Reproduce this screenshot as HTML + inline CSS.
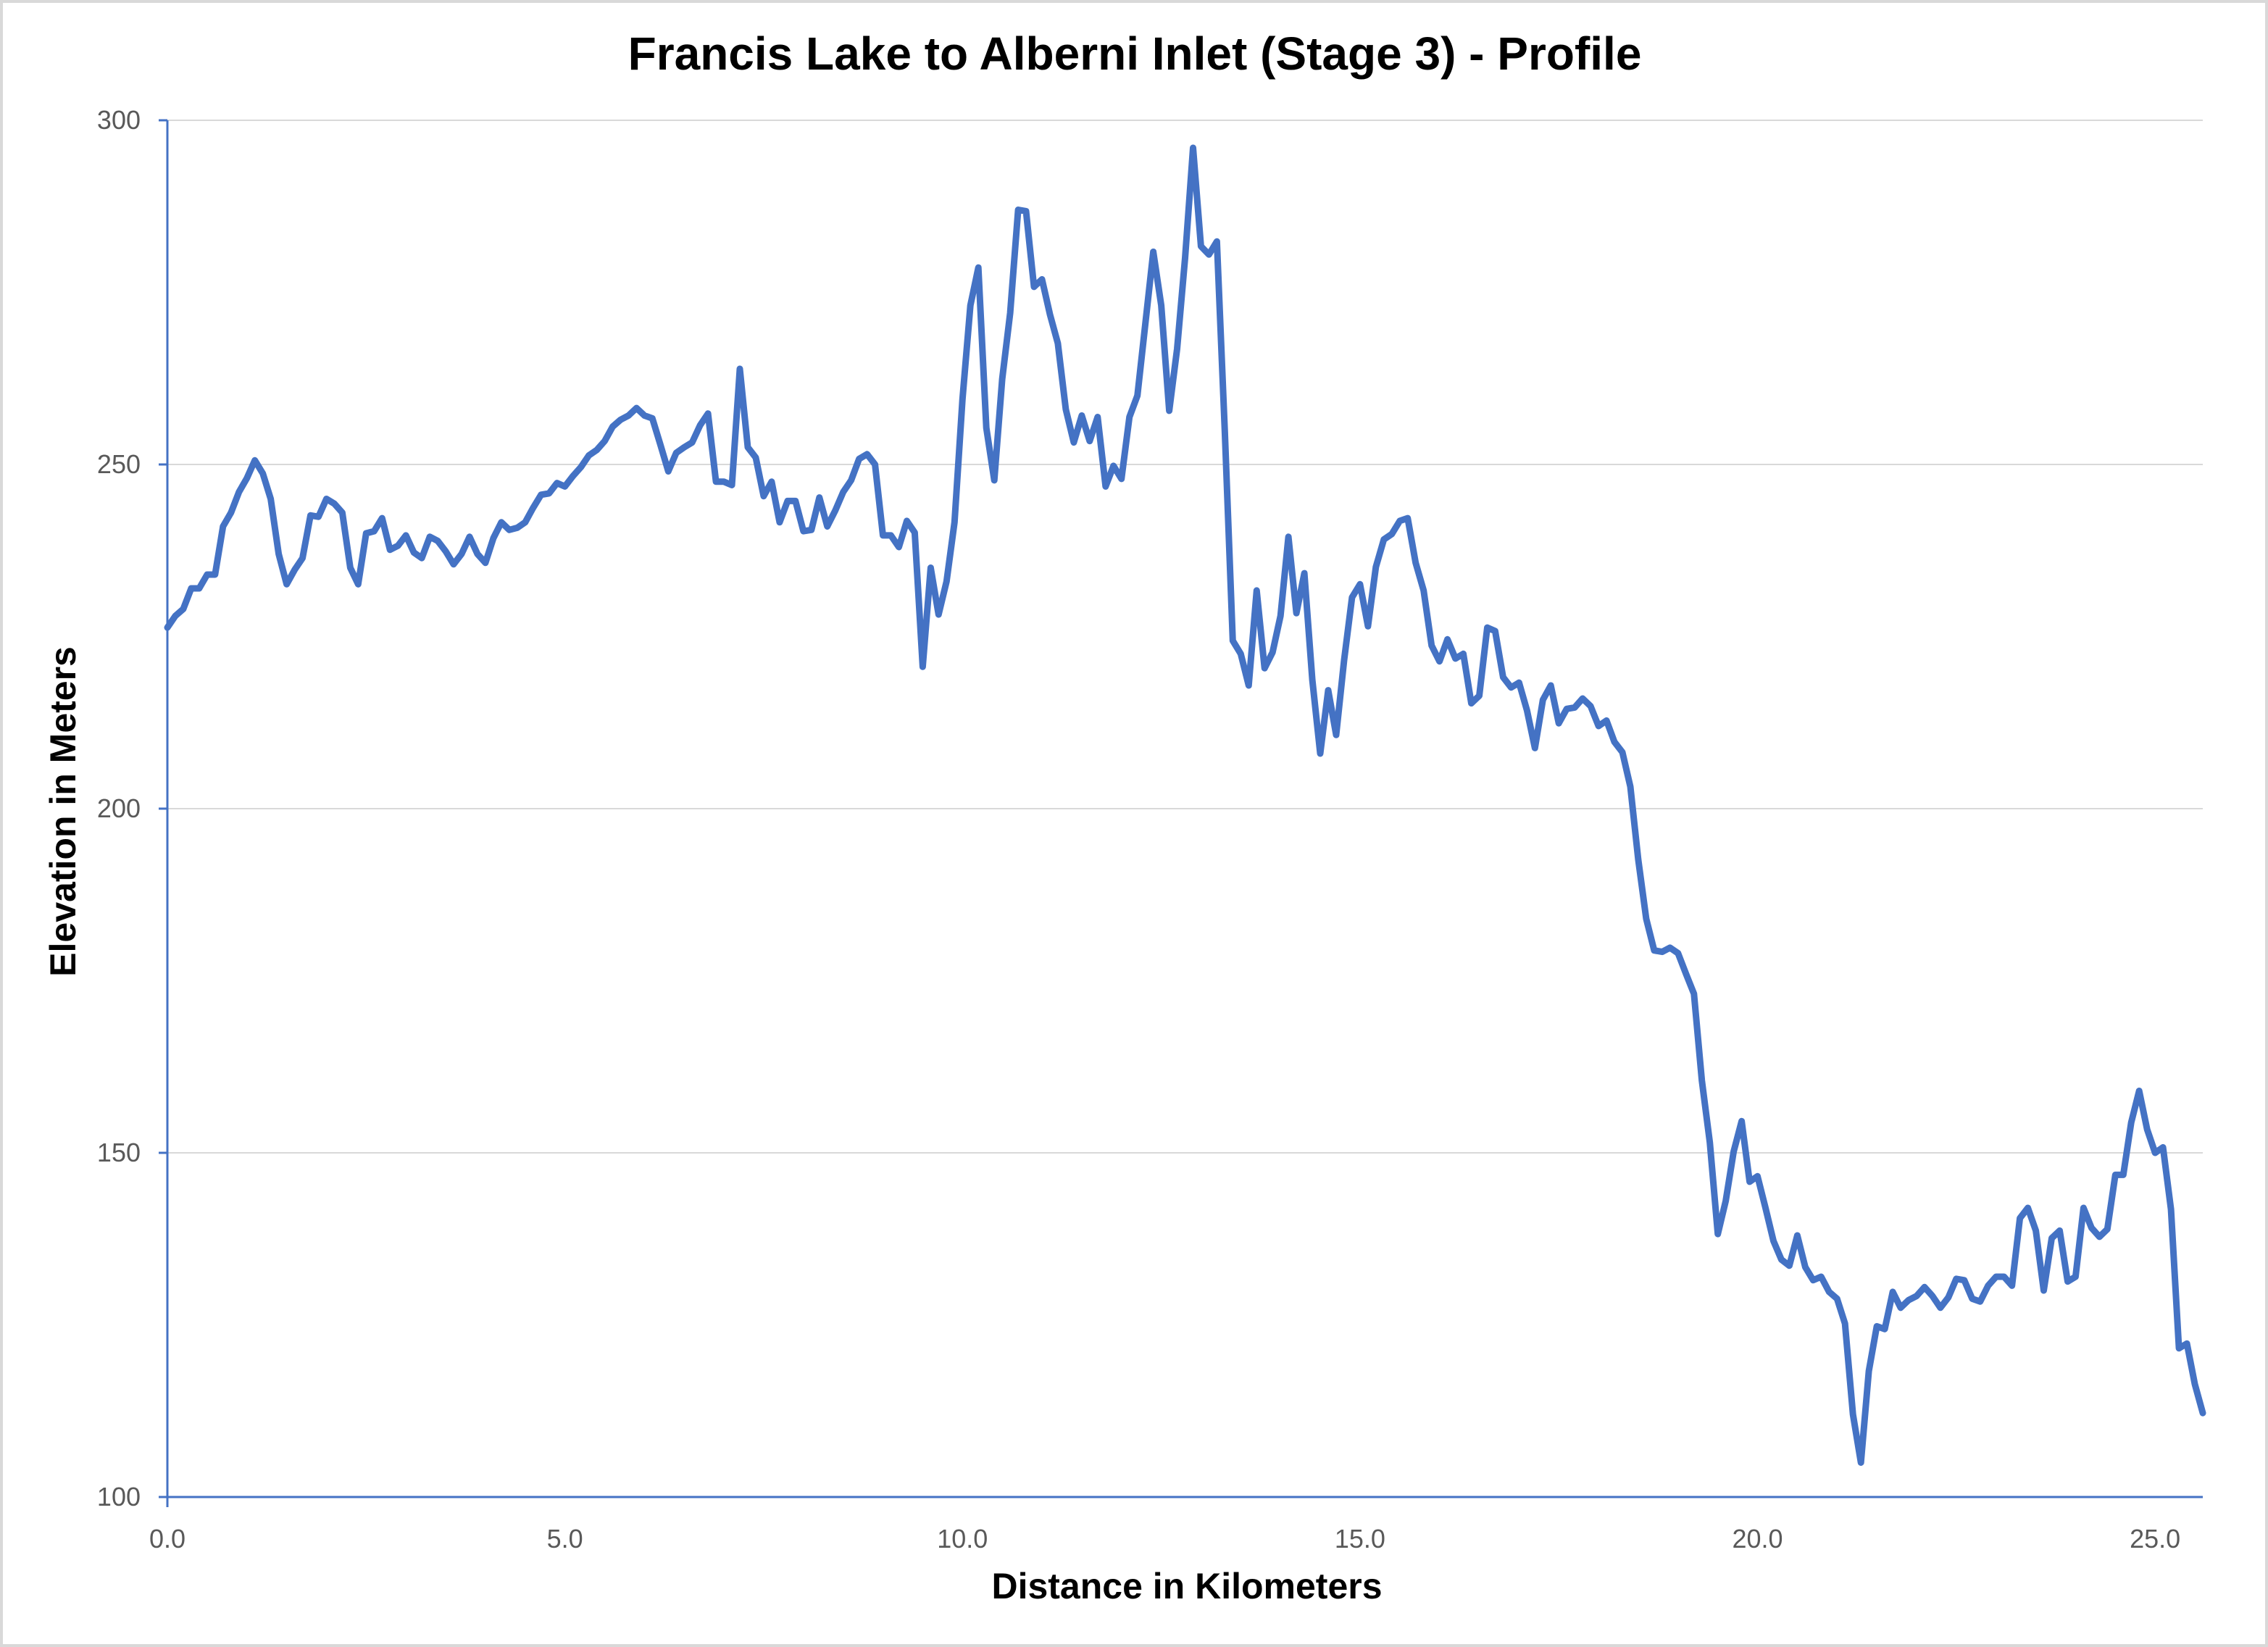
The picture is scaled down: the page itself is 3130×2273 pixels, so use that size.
<!DOCTYPE html>
<html><head><meta charset="utf-8"><style>
html,body{margin:0;padding:0;background:#fff;}
svg{display:block;}
text{font-family:"Liberation Sans",Arial,sans-serif;}
</style></head><body>
<svg id="chart" width="3130" height="2273" viewBox="0 0 3130 2273" xmlns="http://www.w3.org/2000/svg">
<rect x="2" y="2" width="3126" height="2269" fill="#fff" stroke="#d9d9d9" stroke-width="4"/>
<text x="1566" y="96" text-anchor="middle" font-size="64" font-weight="bold" fill="#000">Francis Lake to Alberni Inlet (Stage 3) - Profile</text>
<g id="grid"></g><g id="axes"></g><g id="ticks"></g><g id="series"></g>
<text x="1638" y="2206" text-anchor="middle" font-size="50" font-weight="bold" fill="#000">Distance in Kilometers</text>
<text transform="translate(104,1120) rotate(-90)" text-anchor="middle" font-size="50" font-weight="bold" fill="#000">Elevation in Meters</text>
</svg>
<script>
const yTicks = [100,150,200,250,300];
const xTicks = [0,5,10,15,20,25];
const xTickLabels = ["0.0","5.0","10.0","15.0","20.0","25.0"];
const totalKm = 25.6;
const elev = [226.3,228,229,232,232,234,234,241,243,246,248,250.6,248.7,245,237,232.6,234.7,236.4,242.6,242.4,245,244.3,243,235,232.6,240,240.3,242.2,237.6,238.2,239.7,237.2,236.4,239.5,238.9,237.4,235.5,237,239.5,237,235.7,239.3,241.6,240.5,240.8,241.6,243.7,245.6,245.8,247.3,246.8,248.3,249.6,251.3,252.1,253.4,255.5,256.5,257.1,258.2,257.1,256.7,252.9,249,251.7,252.5,253.2,255.7,257.4,247.5,247.5,247,263.9,252.5,251,245.4,247.5,241.6,244.7,244.7,240.3,240.5,245.2,241,243.3,246,247.7,250.8,251.5,250,239.7,239.7,238,241.8,240.1,220.6,235,228.2,233,241.6,259.5,273.1,278.6,255.3,247.7,262.4,272,287,286.8,275.8,276.9,271.8,267.6,258,253.2,257.1,253.4,256.9,246.8,249.8,247.9,256.9,260,270.4,280.9,273.1,257.8,266.8,280,296,281.7,280.5,282.4,254.6,224.4,222.5,217.9,231.7,220.4,222.7,228,239.5,228.4,234.2,218.7,208,217.2,210.7,221.6,230.7,232.6,226.5,235.1,239.1,239.9,241.8,242.2,235.7,231.7,223.7,221.4,224.6,221.8,222.5,215.3,216.4,226.3,225.8,219.1,217.6,218.3,214.3,208.8,215.8,217.9,212.4,214.5,214.7,216,214.9,212,212.8,209.7,208.2,203.2,192.6,184,179.4,179.2,179.8,179,176,173.1,160.5,151.5,138.2,143,150.2,154.6,145.8,146.6,142,137.2,134.5,133.6,138,133.4,131.5,132,129.8,128.8,125.2,112,105,118.3,124.8,124.4,129.8,127.5,128.6,129.2,130.5,129.2,127.5,129,131.7,131.5,128.8,128.4,130.7,132,132,130.7,140.5,142,138.7,130,137.6,138.7,131.3,132,142,139.1,137.8,138.9,146.8,146.8,154.4,159,153.4,150,150.8,141.8,121.6,122.3,116.4,112.2];
const dist = elev.map((_, i) => i * totalKm / (elev.length - 1));

const NS = "http://www.w3.org/2000/svg";
const X0 = 231, X1 = 3040, Y0 = 2066, Y1 = 166;
const xs = km => X0 + km / totalKm * (X1 - X0);
const ys = v => Y0 - (v - 100) / 200 * (Y0 - Y1);
function mk(tag, attrs, parent) {
  const e = document.createElementNS(NS, tag);
  for (const k in attrs) e.setAttribute(k, attrs[k]);
  document.getElementById(parent).appendChild(e);
  return e;
}
yTicks.forEach(v => {
  if (v > 100) {
    const g = mk("line", {x1: X0, x2: X1, y1: ys(v), y2: ys(v), stroke: "#d9d9d9", "stroke-width": 2}, "grid");
    
    
  }
  const tk = mk("line", {x1: X0 - 12, x2: X0, y1: ys(v), y2: ys(v), stroke: "#4472c4", "stroke-width": 3}, "ticks");
  
  
  const t = mk("text", {x: 194, y: ys(v) + 12, "text-anchor": "end", "font-size": 36, fill: "#595959"}, "ticks");
  t.textContent = String(v);
  
  
});
xTicks.forEach((k, i) => {
  const t = mk("text", {x: xs(k), y: 2136, "text-anchor": "middle", "font-size": 36, fill: "#595959"}, "ticks");
  t.textContent = xTickLabels[i];
  
  
});
const ya = mk("line", {x1: X0, x2: X0, y1: Y1, y2: Y0 + 14, stroke: "#4472c4", "stroke-width": 3}, "axes");


const xa = mk("line", {x1: X0, x2: X1, y1: Y0, y2: Y0, stroke: "#4472c4", "stroke-width": 3}, "axes");


const d = elev.map((v, i) => (i ? "L" : "M") + xs(dist[i]).toFixed(1) + " " + ys(v).toFixed(1)).join(" ");
const p = mk("path", {d: d, fill: "none", stroke: "#4472c4", "stroke-width": 9, "stroke-linejoin": "round", "stroke-linecap": "round"}, "series");


</script>
</body></html>
